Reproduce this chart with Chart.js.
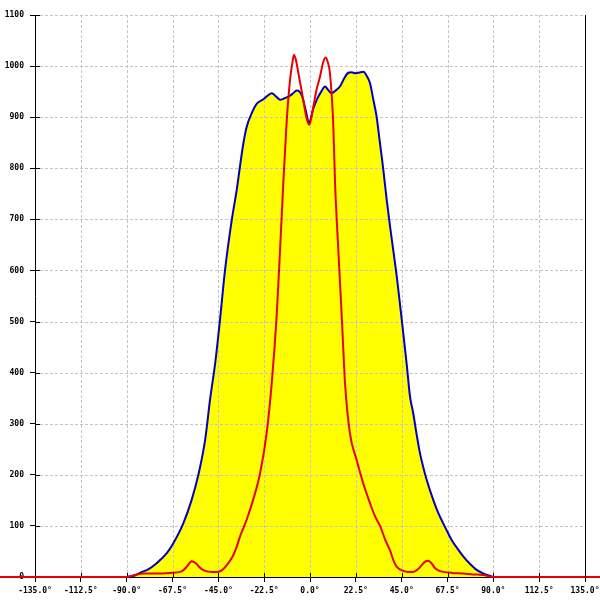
<!DOCTYPE html>
<html><head><meta charset="utf-8">
<script src="https://cdn.jsdelivr.net/npm/chart.js@4"></script>
<style>html,body{margin:0;padding:0;background:#fff}#wrap{width:600px;height:600px}</style>
</head><body><div id="wrap"><canvas id="c" width="600" height="600"></canvas></div>
<script>
const xTickValues = [-135,-112.5,-90,-67.5,-45,-22.5,0,22.5,45,67.5,90,112.5,135];
const yTickValues = [0,100,200,300,400,500,600,700,800,900,1000,1100];

const blueDeg = [-90,-86,-83.5,-79,-75.3,-70.4,-67.1,-62.2,-58.1,-54.8,-51.5,-49.1,-46.5,-44.2,-41.7,-38.4,-36,-34.4,-32.7,-31.1,-28.6,-26,-22.9,-20.5,-18.8,-16.5,-14.7,-12.5,-10.6,-8.5,-6.5,-4.1,-2,-0.5,1.5,3.3,5.5,7.4,9,10.6,12.5,14.7,16.8,18.8,20.5,22.1,24,26.2,28.1,29.5,31.1,32.7,34,35.2,36,37.6,39.3,41,42.6,44.2,45.8,47.5,49.1,50.7,52.3,54,55.6,57.3,60.5,63,65.4,67.5,69.6,72.5,75.3,78.5,81.8,85,88.4,90];
const blueVal = [0,3,8,16,27,46,66,105,151,200,268,346,420,503,601,699,757,803,849,881,908,927,935,943,947,940,934,937,940,946,952,943,912,889,915,934,950,960,953,947,952,960,976,987,988,986,987,989,979,966,934,901,860,823,797,740,686,636,588,533,477,415,353,320,280,242,215,190,151,125,105,88,72,55,40,26,14,7,2,0];

const redDeg = [-180,-90,-86,-81.8,-75,-68.7,-63,-60.5,-58.1,-56,-54,-51.5,-48,-45.8,-43,-40.1,-38,-36,-34.4,-31.1,-28,-24.5,-21.3,-18.8,-16.4,-14.7,-13.1,-11.5,-9.8,-8.7,-7.9,-6.8,-5.7,-3.3,-1.8,-0.3,1.6,3.3,4.9,6.5,7.7,8.7,9.8,11.4,12.3,13.9,15.6,17.2,19.6,22.9,26,29.5,32,34.4,37,39.3,41,42.6,45.8,48,50.7,53,54.8,56.5,58.1,60,61.4,63.5,65.4,70,75.3,80,85,90,180];
const redVal = [0,0,4,7,7,8,11,20,31,27,18,12,10,10,14,27,40,59,79,112,150,203,281,379,509,640,771,888,973,1005,1022,1010,986,934,900,885,920,955,979,1008,1017,1008,986,888,771,640,509,379,281,229,185,144,118,100,72,52,32,20,12,10,10,15,23,30,32,25,17,12,10,8,7,5,4,0,0];

const toPts = (xs, ys) => xs.map((x, i) => ({x: x, y: ys[i]}));

const tickFont = {family: "'DejaVu Sans Mono', monospace", size: 8, weight: 'bold'};

const overlay = {
  id: 'overlay',
  afterDatasetDraw(chart, args) {
    if (args.index !== 2) return;
    const ctx = chart.ctx, a = chart.chartArea;
    const xs = chart.scales.x, ys = chart.scales.y;
    ctx.save();
    ctx.strokeStyle = '#c4c4c4';
    ctx.lineWidth = 1;
    ctx.setLineDash([3, 2]);
    ctx.beginPath();
    xTickValues.forEach(v => {
      if (v === -135 || v === 135) return;
      const px = Math.round(xs.getPixelForValue(v)) + 0.5;
      ctx.moveTo(px, a.top); ctx.lineTo(px, a.bottom);
    });
    yTickValues.forEach(v => {
      if (v === 0) return;
      const py = Math.round(ys.getPixelForValue(v)) + 0.5;
      ctx.moveTo(a.left, py); ctx.lineTo(a.right, py);
    });
    ctx.stroke();
    ctx.setLineDash([]);
    ctx.strokeStyle = '#000';
    ctx.beginPath();
    xTickValues.forEach(v => {
      const px = Math.round(xs.getPixelForValue(v)) + 0.5;
      ctx.moveTo(px, a.bottom); ctx.lineTo(px, a.bottom - 4);
    });
    yTickValues.forEach(v => {
      const py = Math.round(ys.getPixelForValue(v)) + 0.5;
      ctx.moveTo(a.left, py); ctx.lineTo(a.left + 5, py);
    });
    ctx.stroke();
    ctx.restore();
  },
  afterDraw(chart) {
    const ctx = chart.ctx, a = chart.chartArea;
    ctx.save();
    ctx.strokeStyle = '#000';
    ctx.lineWidth = 1;
    ctx.beginPath();
    const px = Math.round(a.right) + 0.5;
    ctx.moveTo(px, a.top); ctx.lineTo(px, a.bottom);
    ctx.stroke();
    ctx.restore();
  }
};

new Chart(document.getElementById('c'), {
  type: 'line',
  data: {
    datasets: [
      {data: toPts(redDeg, redVal), borderColor: '#e80000', borderWidth: 2, pointRadius: 0, fill: false, clip: false, cubicInterpolationMode: 'monotone'},
      {data: toPts(blueDeg, blueVal), borderColor: '#0000c0', borderWidth: 2, pointRadius: 0, fill: false, cubicInterpolationMode: 'monotone'},
      {data: toPts(blueDeg, blueVal), borderColor: 'rgba(0,0,0,0)', borderWidth: 0, pointRadius: 0, backgroundColor: '#ffff00', fill: 'origin', cubicInterpolationMode: 'monotone'}
    ]
  },
  options: {
    responsive: false,
    animation: false,
    layout: {padding: {top: 15, right: 15, left: 0, bottom: 0}},
    plugins: {legend: {display: false}, tooltip: {enabled: false}},
    scales: {
      x: {
        type: 'linear', min: -135, max: 135,
        afterBuildTicks: s => { s.ticks = xTickValues.map(v => ({value: v})); },
        afterFit: s => { s.height = 23; s.paddingLeft = 0; s.paddingRight = 0; },
        grid: {drawOnChartArea: false, drawTicks: true, tickLength: 5, color: '#000'},
        border: {display: true, color: '#000', width: 1},
        ticks: {font: tickFont, color: '#000', padding: 4, maxRotation: 0, autoSkip: false,
                callback: v => v.toFixed(1) + '°'}
      },
      y: {
        min: 0, max: 1100,
        afterBuildTicks: s => { s.ticks = yTickValues.map(v => ({value: v})); },
        afterFit: s => { s.width = 35; s.paddingTop = 0; s.paddingBottom = 0; },
        grid: {drawOnChartArea: false, drawTicks: true, tickLength: 5, color: '#000'},
        border: {display: true, color: '#000', width: 1},
        ticks: {font: tickFont, color: '#000', padding: 6, autoSkip: false,
                callback: v => String(v)}
      }
    }
  },
  plugins: [overlay]
});
</script>
</body></html>
